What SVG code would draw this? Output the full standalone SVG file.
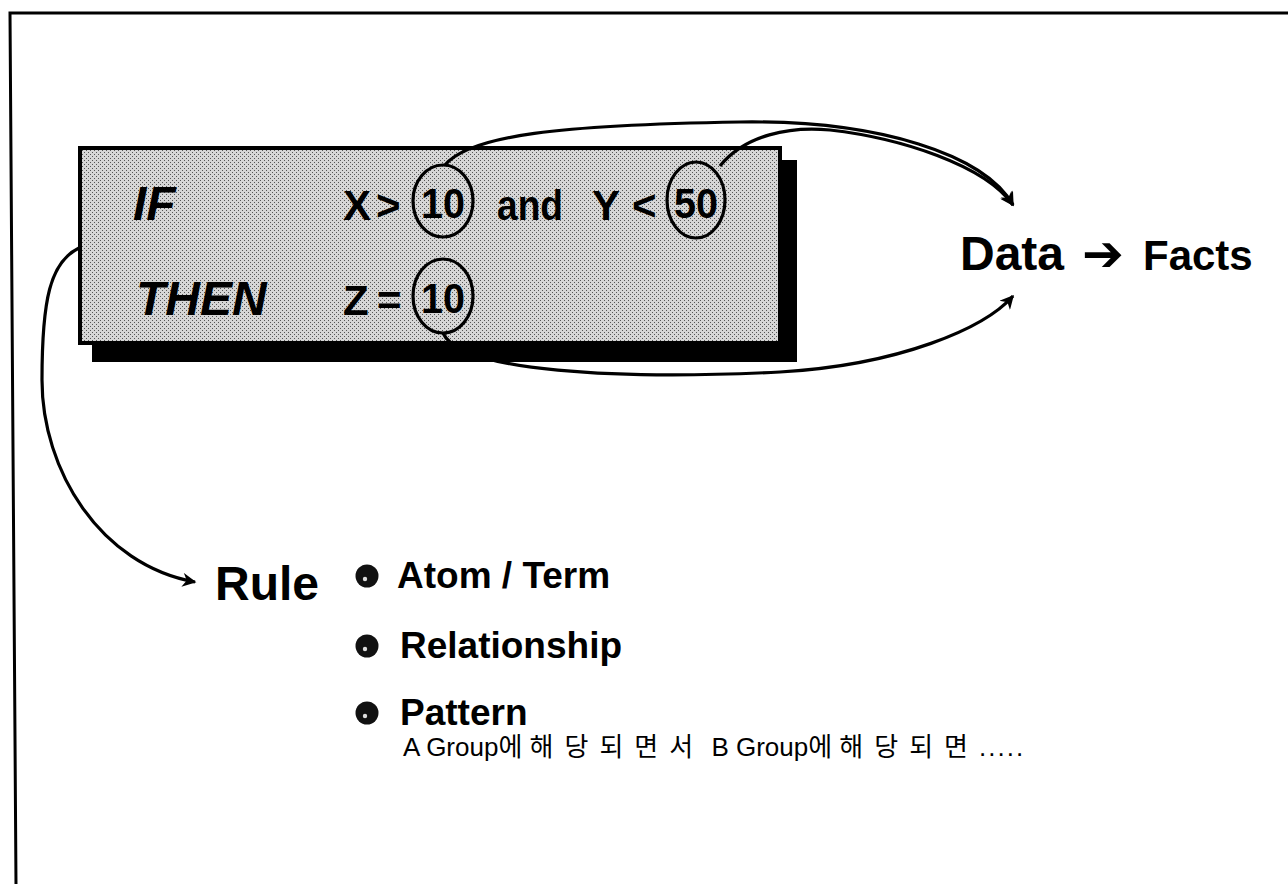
<svg xmlns="http://www.w3.org/2000/svg" width="1288" height="884" viewBox="0 0 1288 884">
<style>
.frame{fill:none;stroke:#000;stroke-width:3}
.conn{fill:none;stroke:#000;stroke-width:3.2;marker-end:url(#ah)}
.ring{fill:none;stroke:#000;stroke-width:3.2}
.kw{font-family:"Liberation Sans",Arial,sans-serif;font-weight:bold;font-style:italic;font-size:48px;fill:#000}
.ex{font-family:"Liberation Sans",Arial,sans-serif;font-weight:bold;font-size:42px;fill:#000}
.num{font-family:"Liberation Sans",Arial,sans-serif;font-weight:bold;font-size:42px;fill:#000}
.big{font-family:"Liberation Sans",Arial,sans-serif;font-weight:bold;fill:#000}
.item{font-family:"Liberation Sans",Arial,sans-serif;font-weight:bold;font-size:37px;fill:#000}
.kr{font-family:"Liberation Sans","Noto Sans CJK KR",sans-serif;font-size:26px;fill:#000}
.ks{letter-spacing:11px}
.dots{letter-spacing:2px}
</style>
<defs>
<pattern id="halftone" width="4" height="4" patternUnits="userSpaceOnUse">
<rect width="4" height="4" fill="#d6d6d6"/>
<rect x="0" y="0" width="1" height="1" fill="#555"/>
<rect x="2" y="2" width="1" height="1" fill="#555"/>
</pattern>
<marker id="ah" viewBox="0 0 10 10" refX="9" refY="5" markerWidth="17" markerHeight="14" markerUnits="userSpaceOnUse" orient="auto">
<path d="M0,0 L10,5 L0,10 L3,5 z" fill="#000"/>
</marker>
<g id="bul">
<circle cx="0" cy="0" r="11.5" fill="#111"/>
<circle cx="-2" cy="3" r="2.2" fill="#ddd"/>
</g>
</defs>
<rect width="1288" height="884" fill="#fff"/>
<g id="frame">
<path class="frame" d="M1288,13 L10,13 L16,884"/>
</g>
<g id="rule-box">
<rect x="92" y="160" width="705" height="202" fill="#000"/>
<rect x="80" y="148" width="700" height="195" fill="url(#halftone)" stroke="#000" stroke-width="4"/>
<text class="kw" x="133" y="220">IF</text>
<text class="kw" x="136" y="315">THEN</text>
<text class="ex" x="343" y="220">X</text>
<text class="ex" x="376" y="220">&gt;</text>
<text class="ex" x="497" y="220" textLength="66" lengthAdjust="spacingAndGlyphs">and</text>
<text class="ex" x="592" y="220">Y</text>
<text class="ex" x="632" y="220">&lt;</text>
<text class="ex" x="343" y="315">Z</text>
<text class="ex" x="377" y="315">=</text>
</g>
<g id="value-10a">
<ellipse class="ring" cx="443" cy="201" rx="30" ry="36"/>
<text class="num" x="443" y="218" text-anchor="middle" textLength="44" lengthAdjust="spacingAndGlyphs">10</text>
</g>
<g id="value-50">
<ellipse class="ring" cx="696" cy="200" rx="29" ry="38"/>
<text class="num" x="696" y="218" text-anchor="middle" textLength="44" lengthAdjust="spacingAndGlyphs">50</text>
</g>
<g id="value-10b">
<ellipse class="ring" cx="443" cy="296" rx="30" ry="37"/>
<text class="num" x="443" y="313" text-anchor="middle" textLength="44" lengthAdjust="spacingAndGlyphs">10</text>
</g>
<g id="data-facts">
<text class="big" x="960" y="270" font-size="48">Data</text>
<text x="1082" y="271" font-family="DejaVu Sans,sans-serif" font-size="50" font-weight="bold" fill="#000">➔</text>
<text class="big" x="1143" y="270" font-size="42">Facts</text>
</g>
<g id="rule">
<text class="big" x="215" y="600" font-size="48">Rule</text>
</g>
<g id="items">
<use href="#bul" x="367" y="576"/>
<text class="item" x="397" y="588">Atom / Term</text>
<use href="#bul" x="367" y="646"/>
<text class="item" x="400" y="658">Relationship</text>
<use href="#bul" x="367" y="713"/>
<text class="item" x="400" y="725">Pattern</text>
<text class="kr" x="403" y="756" xml:space="preserve">A Group에 <tspan class="ks">해당되면서</tspan> B Group에 <tspan class="ks">해당되면</tspan><tspan class="dots">.....</tspan></text>
</g>
<g id="connectors">
<path class="conn" d="M445,165 C470,135 560,125 740,122 C880,120 985,155 1013,205"/>
<path class="conn" d="M720,166 C745,135 790,126 830,130 C900,138 985,165 1013,205"/>
<path class="conn" d="M443,333 C460,372 620,380 780,372 C900,365 985,328 1013,296"/>
<path class="conn" d="M79,248 C50,262 42,300 42,380 C42,470 100,565 195,582"/>
</g>
</svg>
